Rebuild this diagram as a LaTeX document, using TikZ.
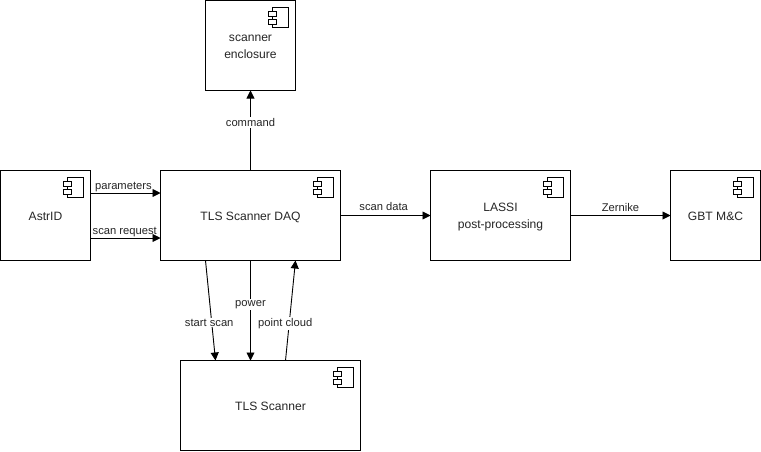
\documentclass[tikz,border=0pt]{standalone}
\usepackage{fontspec}
\setmainfont{Liberation Sans}
\usetikzlibrary{arrows.meta}
\newcommand{\lowtext}[1]{\raisebox{-2pt}[8pt][3pt]{#1}}
\tikzset{
  x=1pt,y=-1pt,
  comp/.style={draw=black,line width=0.9pt,fill=white,minimum width=#1,minimum height=90pt,inner sep=0pt,outer sep=0pt,align=center,font=\fontsize{12.1}{16.5}\selectfont,text=black!85,anchor=north west},
  conn/.style={draw=black,line width=0.9pt,-{Triangle[length=8pt,width=8pt]}},
  lab/.style={font=\fontsize{11.2}{13}\selectfont,text=black!85,inner sep=1pt},
  labbg/.style={lab,fill=white},
  iconpart/.style={draw=black,line width=0.8pt,fill=white}
}
\newcommand{\compicon}[1]{%
  \draw[iconpart] ([xshift=-23pt,yshift=-7pt]#1.north east) rectangle ([xshift=-7pt,yshift=-27pt]#1.north east);
  \draw[iconpart] ([xshift=-27pt,yshift=-11pt]#1.north east) rectangle ([xshift=-19pt,yshift=-16pt]#1.north east);
  \draw[iconpart] ([xshift=-27pt,yshift=-19pt]#1.north east) rectangle ([xshift=-19pt,yshift=-24pt]#1.north east);
}
\begin{document}
\begin{tikzpicture}
\useasboundingbox (0,0) rectangle (761,451);
\fill[white] (0,0) rectangle (761,451);
\node[comp=90pt] (astrid) at (0.5,170.5) {\lowtext{AstrID}};
\node[comp=180pt] (daq) at (160.5,170.5) {\lowtext{TLS Scanner DAQ}};
\node[comp=90pt] (encl) at (205.5,0.5) {\lowtext{scanner}\\\lowtext{enclosure}};
\node[comp=180pt] (tls) at (180.5,360.5) {\lowtext{TLS Scanner}};
\node[comp=140pt] (lassi) at (430.5,170.5) {\lowtext{LASSI}\\\lowtext{post-processing}};
\node[comp=90pt] (gbt) at (670.5,170.5) {\lowtext{GBT M\&C}};
\foreach \n in {astrid,daq,encl,tls,lassi,gbt} {\compicon{\n}}
\coordinate (a1) at (astrid.east |- 0,193);
\coordinate (d1) at (daq.west |- 0,193);
\coordinate (a2) at (astrid.east |- 0,238);
\coordinate (d2) at (daq.west |- 0,238);
\draw[conn] (a1) -- node[lab,above,pos=0.47] {parameters} (d1);
\draw[conn] (a2) -- node[lab,above,pos=0.49] {scan request} (d2);
\draw[conn] (daq.north -| 250.5,0) -- node[labbg,pos=0.6] {command} (encl.south -| 250.5,0);
\draw[conn] (daq.east) -- node[lab,above,pos=0.48,yshift=3pt] {scan data} (lassi.west);
\draw[conn] (lassi.east) -- node[lab,above,pos=0.5,yshift=2.5pt] {Zernike} (gbt.west);
\coordinate (s1) at (205.5,260.5);
\coordinate (s2) at (215.5,360.5);
\draw[conn] (s1) -- node[labbg,pos=0.62,xshift=-2.5pt] {start scan} (s2);
\coordinate (p1) at (250.5,260.5);
\coordinate (p2) at (250.5,360.5);
\draw[conn] (p1) -- node[labbg,pos=0.44] {power} (p2);
\coordinate (c1) at (285.5,360.5);
\coordinate (c2) at (295.5,260.5);
\draw[conn] (c1) -- node[labbg,pos=0.38,xshift=-4pt,yshift=-1pt] {point cloud} (c2);
\end{tikzpicture}
\end{document}
